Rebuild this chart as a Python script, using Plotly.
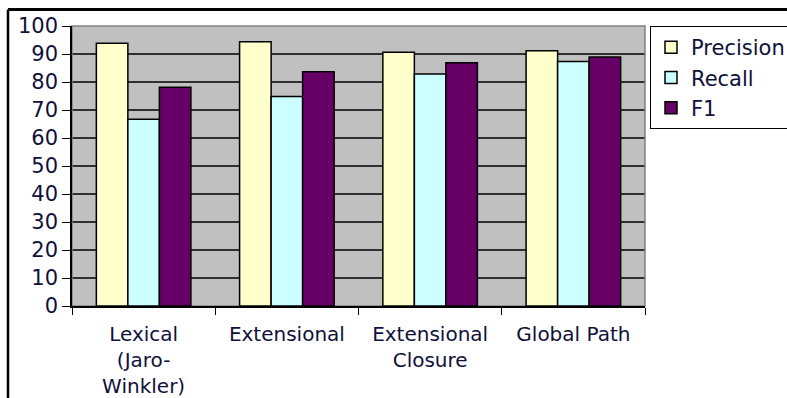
import plotly.graph_objects as go

categories = ["Lexical<br>(Jaro-<br>Winkler)", "Extensional", "Extensional<br>Closure", "Global Path"]
precision = [93.8, 94.4, 90.6, 91.2]
recall = [66.7, 74.8, 82.9, 87.3]
f1 = [78.1, 83.7, 86.9, 88.9]
y_ticks = list(range(0, 101, 10))

series = [("Precision", precision, "#FFFFCC"),
          ("Recall", recall, "#CCFFFF"),
          ("F1", f1, "#660066")]

fig = go.Figure()
for name, vals, col in series:
    fig.add_trace(go.Bar(x=categories, y=vals, name=name,
                         marker=dict(color=col, line=dict(color="#000000", width=1.5))))

txt = "#10103a"
font_family = "DejaVu Sans, sans-serif"

grid_shapes = [dict(type="line", xref="paper", yref="y", x0=0, x1=1, y0=v, y1=v,
                    line=dict(color="#000000", width=1.5), layer="below")
               for v in y_ticks[1:-1]]

# outer chart-area border (top and left edges visible in the crop)
border_shapes = [
    dict(type="line", xref="paper", yref="paper", x0=-0.1117, x1=1.3, y0=1.0589, y1=1.0589,
         line=dict(color="#000000", width=3)),
    dict(type="line", xref="paper", yref="paper", x0=-0.1117, x1=-0.1117, y0=-0.4, y1=1.0589,
         line=dict(color="#000000", width=2.5)),
]

fig.update_layout(
    width=787, height=398,
    margin=dict(l=72, r=142, t=26, b=92, autoexpand=False),
    paper_bgcolor="white",
    plot_bgcolor="#C0C0C0",
    barmode="group",
    bargap=0.34,
    bargroupgap=0,
    font=dict(family=font_family, size=21, color=txt),
    legend=dict(xref="container", yref="container",
                x=650 / 787, y=1 - 26 / 398, xanchor="left", yanchor="top",
                bordercolor="#000000", borderwidth=1, bgcolor="white",
                font=dict(size=21, color=txt), itemwidth=30),
    xaxis=dict(showline=True, linecolor="#000000", linewidth=1.5, automargin=False,
               ticks="outside", tickson="boundaries", ticklen=7, tickcolor="#000000",
               ticklabelstandoff=9,
               tickfont=dict(size=20, color=txt), showgrid=False),
    yaxis=dict(range=[0, 100], tickvals=y_ticks, showline=True, linecolor="#000000",
               linewidth=1.5, ticks="outside", ticklen=8, tickcolor="#000000",
               showgrid=False, zeroline=False, automargin=False,
               tickfont=dict(size=21, color=txt)),
    shapes=grid_shapes + border_shapes + [
        dict(type="rect", xref="paper", yref="paper", x0=0, x1=1, y0=0, y1=1,
             line=dict(color="#808080", width=1.5), layer="below"),
    ],
)

fig.write_html("out.html")
